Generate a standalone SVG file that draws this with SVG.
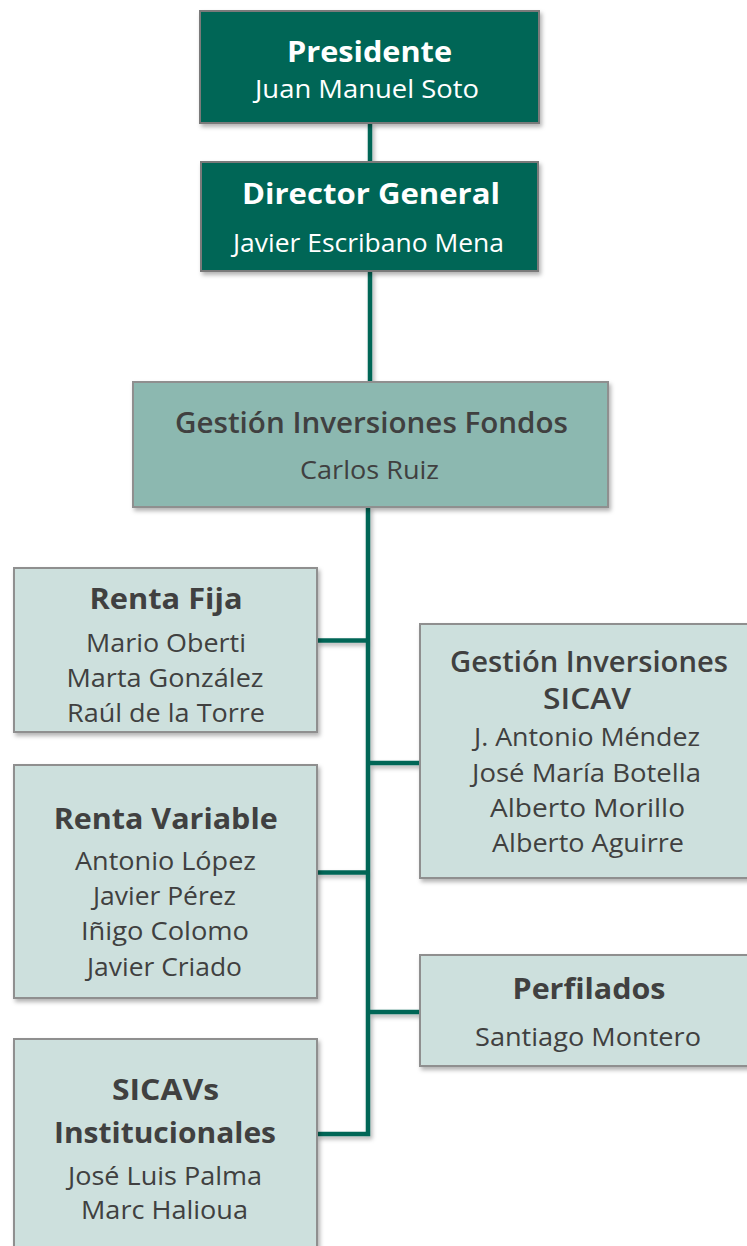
<svg xmlns="http://www.w3.org/2000/svg" width="747" height="1246" viewBox="0 0 747 1246">
<style>
.dark{fill:#046656;stroke:#7a7a7a;stroke-width:2}
.mid{fill:#8cb8b0;stroke:#8f8f8f;stroke-width:2}
.light{fill:#cde0dd;stroke:#8f8f8f;stroke-width:2}
text{font-family:"Open Sans","Noto Sans","Liberation Sans",sans-serif;text-anchor:middle}
.tw{fill:#ffffff;font-size:29px;font-weight:bold}
.nw{fill:#ffffff;font-size:25px}
.tg{fill:#404040;font-size:28px;font-weight:bold}
.tm{fill:#404040;font-size:28px;font-weight:600}
.ng{fill:#404040;font-size:25px}
.conn{stroke:#046656;stroke-width:4.5;fill:none}
</style>
<defs>
<filter id="sh" x="-10%" y="-10%" width="130%" height="130%">
<feDropShadow dx="2" dy="3" stdDeviation="2" flood-color="#000" flood-opacity="0.3"/>
</filter>
</defs>
<g id="connectors" filter="url(#sh)">
<line class="conn" x1="370" y1="123" x2="370" y2="162"/>
<line class="conn" x1="370" y1="271" x2="370" y2="382"/>
<polyline class="conn" points="368,507 368,1134 317,1134"/>
<line class="conn" x1="317" y1="640.5" x2="368" y2="640.5"/>
<line class="conn" x1="317" y1="872.5" x2="368" y2="872.5"/>
<line class="conn" x1="368" y1="763" x2="420" y2="763"/>
<line class="conn" x1="368" y1="1012" x2="420" y2="1012"/>
</g>
<g id="presidente">
<rect class="dark" x="200" y="11" width="339" height="112" filter="url(#sh)"/>
<text class="tw" x="369.5" y="62" textLength="165" lengthAdjust="spacingAndGlyphs">Presidente</text>
<text class="nw" x="367" y="98" textLength="224" lengthAdjust="spacingAndGlyphs">Juan Manuel Soto</text>
</g>
<g id="director-general">
<rect class="dark" x="201" y="162" width="337" height="109" filter="url(#sh)"/>
<text class="tw" x="371" y="204" textLength="258" lengthAdjust="spacingAndGlyphs">Director General</text>
<text class="nw" x="368.5" y="251.5" textLength="271" lengthAdjust="spacingAndGlyphs">Javier Escribano Mena</text>
</g>
<g id="gestion-inversiones-fondos">
<rect class="mid" x="133" y="382" width="475" height="125" filter="url(#sh)"/>
<text class="tm" x="371.5" y="433" textLength="393" lengthAdjust="spacingAndGlyphs">Gestión Inversiones Fondos</text>
<text class="ng" x="369.5" y="479" textLength="139" lengthAdjust="spacingAndGlyphs">Carlos Ruiz</text>
</g>
<g id="renta-fija">
<rect class="light" x="14" y="568" width="303" height="164" filter="url(#sh)"/>
<text class="tg" x="166" y="609" textLength="153" lengthAdjust="spacingAndGlyphs">Renta Fija</text>
<text class="ng" x="166" y="651.5" textLength="160" lengthAdjust="spacingAndGlyphs">Mario Oberti</text>
<text class="ng" x="165" y="687" textLength="197" lengthAdjust="spacingAndGlyphs">Marta González</text>
<text class="ng" x="166" y="722" textLength="198" lengthAdjust="spacingAndGlyphs">Raúl de la Torre</text>
</g>
<g id="gestion-inversiones-sicav">
<rect class="light" x="420" y="624" width="340" height="254" filter="url(#sh)"/>
<text class="tm" x="589" y="671.5" textLength="278" lengthAdjust="spacingAndGlyphs">Gestión Inversiones</text>
<text class="tm" x="587" y="709" textLength="88" lengthAdjust="spacingAndGlyphs">SICAV</text>
<text class="ng" x="587" y="745.5" textLength="226" lengthAdjust="spacingAndGlyphs">J. Antonio Méndez</text>
<text class="ng" x="586.5" y="781.5" textLength="229" lengthAdjust="spacingAndGlyphs">José María Botella</text>
<text class="ng" x="587.5" y="816.5" textLength="195" lengthAdjust="spacingAndGlyphs">Alberto Morillo</text>
<text class="ng" x="588" y="851.5" textLength="192" lengthAdjust="spacingAndGlyphs">Alberto Aguirre</text>
</g>
<g id="renta-variable">
<rect class="light" x="14" y="765" width="303" height="233" filter="url(#sh)"/>
<text class="tg" x="165.7" y="828.5" textLength="224" lengthAdjust="spacingAndGlyphs">Renta Variable</text>
<text class="ng" x="165.5" y="870" textLength="181" lengthAdjust="spacingAndGlyphs">Antonio López</text>
<text class="ng" x="164.5" y="905" textLength="143" lengthAdjust="spacingAndGlyphs">Javier Pérez</text>
<text class="ng" x="165" y="940" textLength="168" lengthAdjust="spacingAndGlyphs">Iñigo Colomo</text>
<text class="ng" x="164.5" y="976" textLength="155" lengthAdjust="spacingAndGlyphs">Javier Criado</text>
</g>
<g id="perfilados">
<rect class="light" x="420" y="955" width="340" height="111" filter="url(#sh)"/>
<text class="tg" x="589" y="998.5" textLength="153" lengthAdjust="spacingAndGlyphs">Perfilados</text>
<text class="ng" x="588" y="1046" textLength="226" lengthAdjust="spacingAndGlyphs">Santiago Montero</text>
</g>
<g id="sicavs-institucionales">
<rect class="light" x="14" y="1039" width="303" height="220" filter="url(#sh)"/>
<text class="tg" x="165.5" y="1100" textLength="107" lengthAdjust="spacingAndGlyphs">SICAVs</text>
<text class="tg" x="165" y="1142.5" textLength="222" lengthAdjust="spacingAndGlyphs">Institucionales</text>
<text class="ng" x="165" y="1185" textLength="194" lengthAdjust="spacingAndGlyphs">José Luis Palma</text>
<text class="ng" x="164.5" y="1219" textLength="167" lengthAdjust="spacingAndGlyphs">Marc Halioua</text>
</g>
</svg>
